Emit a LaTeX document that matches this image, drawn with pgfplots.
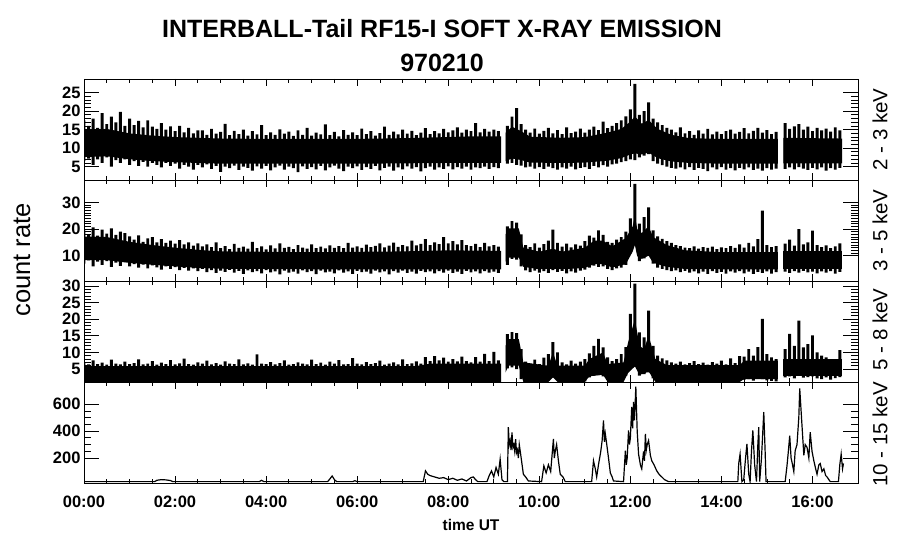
\documentclass[border=0pt]{standalone}
\usepackage{pgfplots}
\pgfplotsset{compat=1.18}
\usepackage{pgfplotstable}
\usepackage{fontspec}
\setmainfont{Liberation Sans}

% 2 - 3 keV: time (h), minimum and maximum count rate in each 6-minute bin
\pgfplotstableread{
t lo hi
0.0 6.5 17.5
0.1 7.2 16.0
0.2 5.5 18.0
0.3 7.0 15.5
0.4 6.0 19.5
0.5 7.5 16.5
0.6 5.0 18.5
0.7 6.8 17.0
0.8 6.0 19.8
0.9 7.0 16.0
1.0 5.5 18.0
1.1 6.5 16.2
1.2 5.2 17.4
1.3 6.3 15.6
1.4 5.0 17.5
1.5 6.0 15.8
1.6 5.5 15.2
1.7 4.8 16.8
1.8 6.0 15.0
1.9 5.2 15.9
2.0 5.8 14.6
2.1 4.5 16.0
2.2 5.5 14.3
2.3 5.0 15.5
2.4 4.2 14.0
2.5 5.5 14.8
2.6 4.8 14.8
2.7 5.6 13.6
2.8 4.4 15.2
2.9 5.2 13.9
3.0 3.6 14.4
3.1 5.0 16.6
3.2 4.6 13.5
3.3 5.3 14.7
3.4 4.1 13.8
3.5 5.0 15.0
3.6 4.7 13.4
3.7 3.9 14.6
3.8 5.1 13.7
3.9 4.5 16.2
4.0 5.2 13.5
4.1 4.0 14.3
4.2 4.8 13.6
4.3 5.3 15.1
4.4 4.2 13.9
4.5 5.0 14.5
4.6 4.6 13.3
4.7 3.5 14.8
4.8 5.1 13.6
4.9 4.4 15.5
5.0 4.9 13.4
5.1 4.3 14.2
5.2 5.2 13.7
5.3 4.0 16.4
5.4 4.8 13.5
5.5 5.3 14.4
5.6 4.5 13.2
5.7 3.8 14.9
5.8 5.0 13.6
5.9 4.6 14.3
6.0 5.1 13.5
6.1 4.1 15.3
6.2 4.9 13.8
6.3 4.4 14.6
6.4 5.2 13.4
6.5 4.0 14.1
6.6 4.7 15.8
6.7 5.0 13.6
6.8 3.9 14.5
6.9 4.8 13.7
7.0 4.3 15.0
7.1 5.1 13.9
7.2 4.5 14.7
7.3 4.9 13.5
7.4 3.7 14.2
7.5 4.6 15.4
7.6 5.0 13.8
7.7 4.2 14.6
7.8 4.8 14.0
7.9 4.4 15.2
8.0 5.1 14.3
8.1 4.3 14.8
8.2 4.9 15.6
8.3 4.5 14.2
8.4 5.0 15.0
8.5 4.2 14.6
8.6 4.8 16.8
8.7 4.6 14.3
8.8 5.0 15.2
8.9 4.4 14.5
9.0 4.9 15.0
9.1 4.6 14.6
9.3 5.8 16.0
9.4 6.0 18.5
9.5 5.5 20.8
9.6 5.3 16.5
9.7 4.8 15.0
9.8 5.0 14.2
9.9 4.5 15.3
10.0 4.9 13.9
10.1 4.4 14.7
10.2 5.0 15.5
10.3 4.6 14.0
10.4 4.2 14.9
10.5 4.8 13.8
10.6 4.5 15.6
10.7 5.0 14.1
10.8 4.3 14.5
10.9 4.7 15.3
11.0 4.9 14.2
11.1 4.4 15.0
11.2 5.2 15.8
11.3 4.8 14.9
11.4 5.4 17.2
11.5 5.0 15.4
11.6 5.6 16.0
11.7 5.8 16.8
11.8 6.2 17.5
11.9 6.5 18.6
12.0 7.0 20.5
12.1 6.8 27.4
12.2 7.5 19.0
12.3 8.0 20.0
12.4 8.4 22.4
12.5 6.5 18.0
12.6 5.8 17.0
12.7 5.4 16.2
12.8 5.0 15.5
12.9 4.7 15.0
13.0 4.5 14.3
13.1 4.8 15.6
13.2 4.3 14.0
13.3 4.9 14.6
13.4 4.1 13.6
13.5 4.7 14.8
13.6 4.4 13.9
13.7 3.8 15.2
13.8 4.8 13.7
13.9 4.3 14.5
14.0 4.9 13.8
14.1 4.2 14.6
14.2 4.6 15.0
14.3 4.0 13.9
14.4 4.7 14.4
14.5 4.3 15.4
14.6 4.8 14.0
14.7 4.1 14.7
14.8 4.5 15.5
14.9 3.9 14.2
15.0 4.6 14.9
15.1 4.2 13.8
15.2 4.5 14.4
15.4 4.4 16.8
15.5 4.8 15.2
15.6 4.3 15.9
15.7 4.9 16.5
15.8 4.5 15.0
15.9 4.1 15.8
16.0 4.7 14.6
16.1 4.3 15.5
16.2 4.8 14.8
16.3 3.9 15.3
16.4 4.6 14.5
16.5 4.2 15.6
16.6 4.7 14.8
}\dataA

% 3 - 5 keV
\pgfplotstableread{
t lo hi
0.0 7.0 19.5
0.1 8.2 18.0
0.2 6.0 20.6
0.3 7.8 17.5
0.4 6.5 19.8
0.5 8.0 18.3
0.6 5.8 20.2
0.7 7.4 17.8
0.8 6.2 19.0
0.9 7.6 18.5
1.0 6.0 17.2
1.1 6.8 16.0
1.2 5.5 17.6
1.3 6.6 15.2
1.4 5.2 16.5
1.5 6.4 17.0
1.6 5.6 15.0
1.7 4.8 16.2
1.8 6.0 14.8
1.9 5.0 15.6
2.0 5.7 14.5
2.1 4.6 15.8
2.2 5.4 14.2
2.3 4.4 15.0
2.4 5.2 13.8
2.5 4.2 14.6
2.6 5.0 13.5
2.7 3.8 14.2
2.8 4.6 13.2
2.9 3.5 15.0
3.0 4.4 12.8
3.1 3.9 13.6
3.2 4.7 12.5
3.3 3.6 14.4
3.4 4.3 12.9
3.5 3.2 13.4
3.6 4.5 12.6
3.7 3.8 15.2
3.8 4.2 12.8
3.9 3.4 13.5
4.0 4.6 12.4
4.1 3.7 13.9
4.2 4.1 12.7
4.3 3.0 14.6
4.4 4.4 12.9
4.5 3.6 13.3
4.6 4.0 12.5
4.7 3.3 14.0
4.8 4.5 13.0
4.9 3.8 12.6
5.0 4.2 14.2
5.1 3.1 12.8
5.2 4.4 13.4
5.3 3.7 12.7
5.4 4.0 13.9
5.5 3.4 12.9
5.6 4.5 13.6
5.7 3.6 12.8
5.8 4.1 14.8
5.9 3.2 13.0
6.0 4.3 13.5
6.1 3.8 12.9
6.2 4.0 14.1
6.3 3.3 13.2
6.4 4.4 13.7
6.5 3.7 14.6
6.6 4.1 13.1
6.7 3.0 13.8
6.8 4.2 14.9
6.9 3.6 13.3
7.0 4.4 14.0
7.1 3.5 13.5
7.2 4.0 15.6
7.3 3.3 13.9
7.4 4.3 14.4
7.5 3.8 16.2
7.6 4.1 14.0
7.7 3.4 15.0
7.8 4.2 14.3
7.9 3.6 17.0
8.0 4.4 14.6
8.1 3.5 15.5
8.2 4.0 14.2
8.3 3.2 15.8
8.4 4.3 14.0
8.5 3.7 13.6
8.6 4.1 14.4
8.7 3.4 13.2
8.8 4.2 14.8
8.9 3.6 13.5
9.0 4.0 14.0
9.1 3.5 13.4
9.3 6.5 21.0
9.4 8.8 23.0
9.5 8.5 22.4
9.6 6.0 18.0
9.7 4.5 14.0
9.8 3.8 13.2
9.9 4.4 14.6
10.0 3.6 13.0
10.1 4.2 14.3
10.2 3.5 15.6
10.3 4.6 19.8
10.4 3.9 14.8
10.5 4.3 13.4
10.6 3.4 14.5
10.7 4.1 13.1
10.8 3.6 14.2
10.9 4.4 13.8
11.0 4.8 15.5
11.1 5.5 17.5
11.2 6.3 16.8
11.3 5.8 19.5
11.4 6.0 17.8
11.5 5.0 15.2
11.6 4.6 14.8
11.7 5.2 16.0
11.8 5.5 17.0
11.9 6.5 19.0
12.0 11.0 24.0
12.1 15.0 36.9
12.2 8.0 22.0
12.3 9.0 24.5
12.4 10.0 28.1
12.5 7.0 19.5
12.6 5.5 17.2
12.7 5.0 16.3
12.8 4.6 15.5
12.9 4.2 14.8
13.0 4.5 14.0
13.1 3.8 13.6
13.2 4.3 13.0
13.3 3.6 12.8
13.4 4.1 13.5
13.5 3.4 12.6
13.6 4.0 13.2
13.7 3.2 12.9
13.8 4.2 13.4
13.9 3.5 12.5
14.0 3.9 13.1
14.1 3.3 12.8
14.2 4.1 13.6
14.3 3.6 12.9
14.4 4.2 14.2
14.5 3.4 13.0
14.6 4.0 14.8
14.7 3.2 13.5
14.8 3.9 16.2
14.9 3.5 26.9
15.0 4.1 14.0
15.1 3.3 13.2
15.2 3.8 13.6
15.4 4.0 14.5
15.5 3.5 16.0
15.6 4.2 13.8
15.7 3.6 20.0
15.8 4.3 14.2
15.9 3.7 15.0
16.0 4.0 19.4
16.1 3.4 14.0
16.2 4.1 13.2
16.3 3.6 13.9
16.4 4.2 12.8
16.5 3.3 13.5
16.6 3.9 14.6
}\dataB

% 5 - 8 keV
\pgfplotstableread{
t lo hi
0.0 1.2 6.8
0.1 1.2 6.4
0.2 1.2 7.6
0.3 1.2 6.5
0.4 1.2 6.9
0.5 1.2 6.3
0.6 1.2 7.8
0.7 1.2 6.6
0.8 1.2 6.4
0.9 1.2 7.2
1.0 1.2 6.5
1.1 1.2 6.8
1.2 1.2 7.9
1.3 1.2 6.4
1.4 1.2 6.6
1.5 1.2 7.4
1.6 1.2 6.3
1.7 1.2 6.9
1.8 1.2 6.5
1.9 1.2 7.7
2.0 1.2 6.4
2.1 1.2 6.7
2.2 1.2 8.1
2.3 1.2 6.5
2.4 1.2 6.3
2.5 1.2 7.0
2.6 1.2 6.6
2.7 1.2 7.5
2.8 1.2 6.4
2.9 1.2 6.8
3.0 1.2 6.3
3.1 1.2 7.3
3.2 1.2 6.6
3.3 1.2 6.5
3.4 1.2 7.9
3.5 1.2 6.4
3.6 1.2 6.7
3.7 1.2 6.3
3.8 1.2 9.4
3.9 1.2 6.6
4.0 1.2 6.5
4.1 1.2 7.1
4.2 1.2 6.4
4.3 1.2 6.8
4.4 1.2 7.6
4.5 1.2 6.3
4.6 1.2 6.5
4.7 1.2 7.0
4.8 1.2 6.6
4.9 1.2 6.4
5.0 1.2 7.8
5.1 1.2 6.5
5.2 1.2 6.9
5.3 1.2 6.3
5.4 1.2 7.2
5.5 1.2 6.6
5.6 1.2 7.7
5.7 1.2 6.4
5.8 1.2 6.5
5.9 1.2 8.3
6.0 1.2 6.6
6.1 1.2 6.4
6.2 1.2 7.1
6.3 1.2 6.5
6.4 1.2 6.8
6.5 1.2 7.5
6.6 1.2 6.3
6.7 1.2 6.6
6.8 1.2 7.0
6.9 1.2 6.4
7.0 1.2 7.9
7.1 1.2 6.5
7.2 1.2 6.7
7.3 1.2 7.3
7.4 1.2 6.6
7.5 1.8 8.6
7.6 1.3 7.4
7.7 2.0 8.9
7.8 1.3 7.6
7.9 1.8 8.4
8.0 1.2 7.2
8.1 1.5 8.0
8.2 1.2 7.3
8.3 1.4 8.7
8.4 1.2 7.4
8.5 1.2 7.0
8.6 1.2 8.6
8.7 1.2 7.2
8.8 1.2 9.6
8.9 1.2 7.4
9.0 1.2 10.2
9.1 1.2 7.6
9.3 5.2 15.5
9.4 5.5 16.1
9.5 5.0 15.8
9.6 2.0 11.0
9.7 1.3 7.2
9.8 1.2 6.6
9.9 1.2 7.8
10.0 1.2 6.5
10.1 1.3 8.4
10.2 1.5 9.5
10.3 2.5 13.1
10.4 1.8 10.0
10.5 1.2 7.0
10.6 1.2 6.4
10.7 1.2 7.5
10.8 1.2 6.6
10.9 1.2 7.2
11.0 1.3 8.0
11.1 2.5 9.7
11.2 3.0 12.0
11.3 3.2 14.1
11.4 2.8 11.5
11.5 1.8 8.5
11.6 1.5 7.4
11.7 1.5 8.0
11.8 2.0 9.5
11.9 3.0 11.6
12.0 5.0 21.6
12.1 5.7 30.7
12.2 3.0 16.0
12.3 3.5 14.5
12.4 4.0 22.6
12.5 2.2 12.0
12.6 1.6 9.0
12.7 1.4 8.2
12.8 1.3 7.6
12.9 1.3 7.0
13.0 1.2 6.6
13.1 1.2 7.2
13.2 1.2 6.4
13.3 1.2 6.8
13.4 1.2 7.4
13.5 1.2 6.5
13.6 1.2 6.9
13.7 1.2 6.3
13.8 1.2 7.1
13.9 1.2 6.6
14.0 1.2 7.5
14.1 1.2 6.4
14.2 1.3 8.2
14.3 1.2 6.8
14.4 1.4 8.9
14.5 1.8 8.7
14.6 2.0 11.0
14.7 1.5 9.0
14.8 2.2 11.6
14.9 2.0 20.1
15.0 1.6 9.5
15.1 1.4 8.5
15.2 1.3 8.0
15.4 2.5 11.0
15.5 2.8 15.6
15.6 2.2 12.0
15.7 3.0 19.6
15.8 2.4 11.5
15.9 2.6 12.5
16.0 2.8 15.1
16.1 2.2 10.0
16.2 2.0 9.0
16.3 2.5 8.5
16.4 1.8 8.0
16.5 2.3 7.5
16.6 2.6 10.7
}\dataC

\pgfplotsset{
  panel/.style={
    scale only axis, width=774bp, height=101bp,
    anchor=south west,
    xmin=0, xmax=17,
    xtick={0,2,...,16}, minor x tick num=3,
    xticklabels={},
    tick align=inside,
    axis line style={line width=0.9bp},
    every tick/.style={black, line width=0.8bp},
    xtick style={/pgfplots/major tick length=7bp, /pgfplots/minor tick length=4bp},
    ytick style={/pgfplots/major tick length=15bp, /pgfplots/minor tick length=7bp},
    tick label style={font=\fontsize{16.5bp}{16.5bp}\selectfont\bfseries},
    /pgf/number format/assume math mode=true,
  },
  core/.style={scale only axis, width=774bp, height=101bp, anchor=south west,
    xmin=0, xmax=17, hide axis},
  comb/.style={ybar stacked, bar width=0.065},
}
\tikzset{rlab/.style={rotate=90, font=\fontsize{20.5bp}{20.5bp}\selectfont}}

\begin{document}
\begin{tikzpicture}[x=1bp,y=1bp]
\path[use as bounding box] (0,0) rectangle (900,548);

% ---------- panel 1: 2 - 3 keV ----------
% dense core of the band (upper edge forward, lower edge back)
\begin{axis}[core, at={(84bp,368bp)}, ymin=1.4, ymax=28.7]
  \addplot[fill=black, draw=none] coordinates {
    (0,15.0)(0.5,15.2)(1.0,14.0)(1.5,13.4)(2.0,13.0)(2.5,12.8)(3.0,12.6)(4.0,12.5)(5.0,12.5)(6.0,12.5)(7.0,12.7)(8.0,13.0)(8.5,13.2)(9.16,13.2)
    (9.16,6.0)(8.5,6.0)(8.0,6.0)(7.0,5.9)(6.0,5.8)(5.0,5.8)(4.0,5.8)(3.0,5.8)(2.5,6.0)(2.0,6.2)(1.5,6.5)(1.0,7.0)(0.5,7.8)(0.0,7.6)};
  \addplot[fill=black, draw=none] coordinates {
    (9.26,14.2)(9.4,15.8)(9.6,14.6)(9.8,13.1)(10.5,12.8)(11.0,13.0)(11.5,14.2)(11.8,15.2)(12.0,17.2)(12.1,18.6)(12.25,16.6)(12.4,17.6)(12.6,15.2)(12.9,13.6)(13.3,12.7)(14.0,12.5)(15.24,12.5)
    (15.24,5.8)(14.0,5.8)(13.3,6.0)(12.9,6.4)(12.6,7.3)(12.4,8.8)(12.25,8.3)(12.1,8.6)(12.0,8.3)(11.8,7.3)(11.5,6.6)(11.0,6.1)(10.5,6.0)(9.8,6.1)(9.6,6.8)(9.4,7.2)(9.26,6.5)};
  \addplot[fill=black, draw=none] coordinates {
    (15.36,12.8)(16.0,12.7)(16.65,12.6)(16.65,5.9)(16.0,5.9)(15.36,5.9)};
\end{axis}
% extremes in each bin
\begin{axis}[panel, comb, at={(84bp,368bp)}, ymin=1.4, ymax=28.7,
  ytick={5,10,15,20,25}, minor y tick num=4]
  \addplot[draw=none, fill=none] table[x=t, y=lo] {\dataA};
  \addplot[fill=black, draw=none] table[x=t, y expr=\thisrow{hi}-\thisrow{lo}] {\dataA};
\end{axis}

% ---------- panel 2: 3 - 5 keV ----------
\begin{axis}[core, at={(84bp,267bp)}, ymin=0.5, ymax=38.4]
  \addplot[fill=black, draw=none] coordinates {
    (0,17.2)(0.5,17.0)(1.0,15.2)(1.5,14.0)(2.0,13.0)(2.5,12.2)(3.0,11.6)(5.0,11.3)(7.0,11.6)(8.0,12.0)(9.16,11.8)
    (9.16,4.9)(8.0,4.9)(7.0,4.9)(5.0,4.9)(3.0,5.1)(2.5,5.4)(2.0,6.0)(1.5,6.6)(1.0,7.3)(0.5,8.3)(0,8.3)};
  \addplot[fill=black, draw=none] coordinates {
    (9.26,18.0)(9.32,20.2)(9.55,20.2)(9.65,13.0)(10.0,11.5)(10.3,12.6)(10.5,11.5)(11.0,13.0)(11.2,15.6)(11.4,15.6)(11.6,13.5)(11.9,16.6)(12.05,21.0)(12.1,25.0)(12.15,20.0)(12.25,18.5)(12.4,21.0)(12.5,17.0)(12.8,14.0)(13.2,12.0)(14.0,11.3)(15.24,11.3)
    (15.24,4.9)(14.0,4.9)(13.2,5.0)(12.8,5.8)(12.5,7.3)(12.4,10.0)(12.25,8.8)(12.15,9.8)(12.1,14.0)(12.05,11.5)(11.9,6.8)(11.6,5.6)(11.4,6.8)(11.2,6.8)(11.0,5.4)(10.5,4.9)(10.3,5.1)(10.0,4.9)(9.65,5.8)(9.55,9.3)(9.32,9.3)(9.26,7.8)};
  \addplot[fill=black, draw=none] coordinates {
    (15.36,11.6)(16.65,11.6)(16.65,4.9)(15.36,4.9)};
\end{axis}
\begin{axis}[panel, comb, at={(84bp,267bp)}, ymin=0.5, ymax=38.4,
  ytick={10,20,30}, minor y tick num=9]
  \addplot[draw=none, fill=none] table[x=t, y=lo] {\dataB};
  \addplot[fill=black, draw=none] table[x=t, y expr=\thisrow{hi}-\thisrow{lo}] {\dataB};
\end{axis}

% ---------- panel 3: 5 - 8 keV ----------
\begin{axis}[core, at={(84bp,166bp)}, ymin=1.1, ymax=31.5]
  \addplot[fill=black, draw=none] coordinates {
    (0,5.9)(7.3,5.9)(7.6,6.6)(9.16,6.6)(9.16,1.1)(0,1.1)};
  \addplot[fill=black, draw=none] coordinates {
    (9.26,12.0)(9.32,14.0)(9.55,14.0)(9.65,7.0)(10.2,6.0)(10.3,10.0)(10.4,6.0)(11.0,6.0)(11.1,8.0)(11.4,10.0)(11.5,6.5)(11.85,7.0)(11.95,13.0)(12.1,20.0)(12.2,12.0)(12.3,11.0)(12.4,15.0)(12.55,8.0)(12.8,6.2)(14.4,6.2)(14.5,7.5)(15.24,7.5)
    (15.24,2.0)(14.5,2.0)(14.4,1.1)(12.8,1.1)(12.55,1.1)(12.4,4.3)(12.3,3.6)(12.2,3.3)(12.1,5.8)(11.95,3.8)(11.85,1.1)(11.5,1.1)(11.4,3.3)(11.1,2.8)(11.0,1.1)(10.4,1.1)(10.3,2.5)(10.2,1.1)(9.65,1.1)(9.55,6.0)(9.32,6.0)(9.26,4.0)};
  \addplot[fill=black, draw=none] coordinates {
    (15.36,8.0)(16.65,8.0)(16.65,3.0)(15.36,3.0)};
\end{axis}
\begin{axis}[panel, comb, at={(84bp,166bp)}, ymin=1.1, ymax=31.5,
  ytick={5,10,15,20,25,30}, minor y tick num=4]
  \addplot[draw=none, fill=none] table[x=t, y=lo] {\dataC};
  \addplot[fill=black, draw=none] table[x=t, y expr=\thisrow{hi}-\thisrow{lo}] {\dataC};
\end{axis}

% ---------- panel 4: 10 - 15 keV ----------
\begin{axis}[panel, at={(84bp,65bp)}, ymin=15, ymax=765,
  ytick={200,400,600}, minor y tick num=3,
  xticklabels={00:00,02:00,04:00,06:00,08:00,10:00,12:00,14:00,16:00},
  xticklabel style={yshift=-9bp},
  xlabel={time UT},
  xlabel style={font=\fontsize{15.5bp}{15.5bp}\selectfont\bfseries, yshift=-5bp}]
  \addplot[black, line width=1.2bp] coordinates {
  (0,25) (1.55,25) (1.6,35) (1.7,40) (1.8,38) (1.9,33) (1.95,25) (3.85,25)
  (3.9,35) (3.95,25) (5.35,25) (5.4,45) (5.45,67) (5.5,40) (5.55,25) (5.9,25)
  (5.95,32) (6.0,25) (7.45,25) (7.5,105) (7.55,80) (7.6,70) (7.7,60) (7.8,50)
  (7.9,55) (8.0,40) (8.1,50) (8.2,35) (8.3,45) (8.4,30) (8.5,55) (8.55,60)
  (8.6,40) (8.65,25) (8.85,25) (8.9,70) (8.95,105) (9.0,60) (9.05,130) (9.1,80)
  (9.14,192) (9.18,40) (9.22,25) (9.3,25) (9.32,430) (9.34,300) (9.36,330) (9.38,260) (9.4,390) (9.42,280) (9.44,300)
  (9.46,250) (9.48,340) (9.5,240) (9.52,260) (9.54,200) (9.56,300) (9.6,205) (9.65,80) (9.7,60) (9.76,30) (10.05,25)
  (10.1,142) (10.15,90) (10.2,150) (10.25,100) (10.31,342) (10.33,200) (10.35,250) (10.38,300) (10.42,180)
  (10.46,80) (10.52,60) (10.57,25) (11.15,25) (11.19,180) (11.23,120) (11.26,60) (11.3,150)
  (11.35,250) (11.38,330) (11.41,480) (11.43,320) (11.45,380) (11.48,305) (11.52,200) (11.56,90) (11.6,60) (11.63,30)
  (11.85,25) (11.89,255) (11.91,150) (11.93,200) (11.96,405) (11.98,300) (12.0,350) (12.03,580) (12.05,420) (12.07,617) (12.09,480)
  (12.12,730) (12.15,400) (12.18,230) (12.22,150) (12.25,120) (12.29,250) (12.31,180) (12.33,380) (12.35,260) (12.37,300)
  (12.4,330) (12.44,220) (12.47,180) (12.52,150) (12.58,105) (12.63,80) (12.69,60) (12.75,40)
  (12.84,25) (14.36,25) (14.38,160) (14.41,230) (14.45,25) (14.49,40) (14.53,200) (14.56,305)
  (14.6,80) (14.63,25) (14.66,250) (14.69,405) (14.73,150) (14.77,25) (14.8,300) (14.82,430)
  (14.84,25) (14.88,200) (14.93,542) (14.96,250) (14.98,25) (15.4,25) (15.44,142) (15.47,250)
  (15.5,367) (15.53,200) (15.55,170) (15.59,100) (15.62,255) (15.66,300) (15.7,505) (15.72,717)
  (15.75,550) (15.77,440) (15.81,220) (15.84,300) (15.88,280) (15.92,200) (15.95,392) (15.99,250)
  (16.03,180) (16.07,120) (16.1,80) (16.14,150) (16.17,160) (16.21,100) (16.25,120) (16.29,70)
  (16.32,60) (16.36,40) (16.39,25) (16.57,25) (16.6,150) (16.63,230) (16.66,120) (16.68,160)
  };
\end{axis}

\node[rlab] at (880,418.5) {2 - 3 keV};
\node[rlab] at (880,317.5) {3 - 5 keV};
\node[rlab] at (880,218.5) {5 - 8 keV};
\node[rlab] at (880,113.5) {10 - 15 keV};
\node[font=\fontsize{25bp}{25bp}\selectfont\bfseries, anchor=base] at (442,510) {INTERBALL-Tail RF15-I SOFT X-RAY EMISSION};
\node[font=\fontsize{25bp}{25bp}\selectfont\bfseries, anchor=base] at (442,476) {970210};
\node[rotate=90, font=\fontsize{25.5bp}{25.5bp}\selectfont] at (22,288) {count rate};
\end{tikzpicture}
\end{document}
